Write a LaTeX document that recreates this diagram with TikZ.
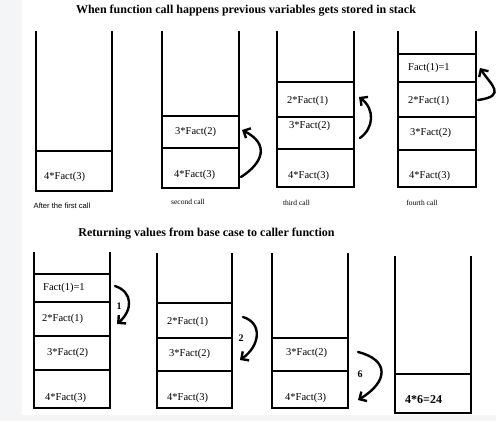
\documentclass[tikz,border=0pt]{standalone}
\usepackage{fontspec}
\setmainfont{Liberation Serif}
\newfontfamily\capsans{Liberation Sans}
\usetikzlibrary{arrows.meta}
\definecolor{bgrey}{HTML}{F4F5F7}
\newcommand\cel[8]{%
  \node[cellbox, anchor=north west, minimum width={#4-#2}, minimum height={#5-#3}] (#1) at (#2,#3) {};%
  \node[celltext, anchor=west] (#1t) at (#6,#7) {#8};}
\begin{document}
\begin{tikzpicture}[x=1pt,y=-1pt,
  wall/.style={line width=2.7pt, line join=miter},
  cellbox/.style={draw, line width=2.4pt, inner sep=0pt, outer sep=0pt},
  celltext/.style={inner sep=0pt, font=\fontsize{10.5}{12}\selectfont},
  bigtext/.style={inner sep=0pt, font=\bfseries\fontsize{12}{14}\selectfont},
  ttl/.style={font=\bfseries\fontsize{12}{14}\selectfont, inner sep=0pt},
  capt/.style={font=\fontsize{7.5}{9}\selectfont, inner sep=0pt},
  captsans/.style={font=\capsans\fontsize{7.6}{9}\selectfont, inner sep=0pt},
  back/.style={line width=2.4pt, line cap=round, -{Straight Barb[length=5.5pt,width=11pt,line width=2.4pt]}},
  num/.style={font=\bfseries\fontsize{10}{12}\selectfont, inner sep=0pt}]
\fill[bgrey] (0,0) rectangle (496,421);
\fill[white] (22,0) rectangle (496,415);
\useasboundingbox (0,0) rectangle (496,421);

% titles
\node[ttl] (t1) at (246,11) {When function call happens previous variables gets stored in stack};
\node[ttl] (t2) at (206.5,234) {Returning values from base case to caller function};

% ---- top row ----
% stack 1
\cel{s1a}{36}{151}{112}{191}{44}{177}{4*Fact(3)}
\draw[wall] (36,31) -- (36,191) -- (112,191) -- (112,31);
\node[captsans] (c1) at (62,206) {After the first call};
% stack 2
\cel{s2a}{162}{148}{239}{188}{174}{175}{4*Fact(3)}
\cel{s2b}{162}{116}{239}{148}{175}{132}{3*Fact(2)}
\draw[wall] (162,31) -- (162,188) -- (239,188) -- (239,31);
\node[capt] (c2) at (188,202) {second call};
% stack 3
\cel{s3a}{277}{149}{354}{187}{288}{176}{4*Fact(3)}
\cel{s3b}{277}{117}{354}{149}{289}{126}{3*Fact(2)}
\cel{s3c}{277}{82}{354}{117}{287}{101}{2*Fact(1)}
\draw[wall] (277,31) -- (277,187) -- (354,187) -- (354,31);
\node[capt] (c3) at (296.5,203) {third call};
% stack 4
\cel{s4a}{398}{150}{476}{187}{409}{176}{4*Fact(3)}
\cel{s4b}{398}{117}{476}{150}{410}{133}{3*Fact(2)}
\cel{s4c}{398}{82}{476}{117}{408}{101}{2*Fact(1)}
\cel{s4d}{398}{54}{476}{82}{408}{68}{Fact(1)=1}
\draw[wall] (398,31) -- (398,187) -- (476,187) -- (476,31);
\node[capt] (c4) at (422,203) {fourth call};

% call arrows
\draw[back] ([shift={(2,9)}]s2a.east) .. controls +(22,-14) and +(28,14) .. ([shift={(3,-2)}]s2b.east);
\draw[back] ([shift={(6,5)}]s3b.east) .. controls +(14,-10) and +(16,12) .. ([shift={(5,-2.5)}]s3c.east);
\draw[back] ([shift={(2,0.5)}]s4c.east) .. controls +(30,-4) and +(10,16) .. ([shift={(4,0)}]s4d.east);

% ---- bottom row ----
% stack 5
\cel{s5a}{34}{370}{110}{408}{45}{398}{4*Fact(3)}
\cel{s5b}{34}{336}{110}{370}{47}{353}{3*Fact(2)}
\cel{s5c}{34}{302}{110}{336}{42}{319}{2*Fact(1)}
\cel{s5d}{34}{274}{110}{302}{43}{288}{Fact(1)=1}
\draw[wall] (34,252) -- (34,408) -- (110,408) -- (110,252);
% stack 6
\cel{s6a}{157}{371}{232}{408}{167}{398}{4*Fact(3)}
\cel{s6b}{157}{338}{232}{371}{169}{354}{3*Fact(2)}
\cel{s6c}{157}{303}{232}{338}{167}{322}{2*Fact(1)}
\draw[wall] (157,253) -- (157,408) -- (232,408) -- (232,253);
% stack 7
\cel{s7a}{272}{371}{348}{408}{285}{398}{4*Fact(3)}
\cel{s7b}{272}{338}{348}{371}{286}{353}{3*Fact(2)}
\draw[wall] (272,253) -- (272,408) -- (348,408) -- (348,253);
% stack 8
\node[cellbox, anchor=north west, minimum width=76, minimum height=39] (s8a) at (395,374) {};
\node[bigtext, anchor=west] (s8at) at (405,400) {4*6=24};
\draw[wall] (395,256) -- (395,413) -- (471,413) -- (471,256);

% return arrows
\draw[back] ([shift={(5,-2)}]s5d.east) .. controls +(18,6) and +(16,-14) .. ([shift={(7,5)}]s5c.east);
\node[num] (n1) at (119,306) {1};
\draw[back] ([shift={(11,-3.5)}]s6c.east) .. controls +(20,6) and +(20,-14) .. ([shift={(8,5.5)}]s6b.east);
\node[num] (n2) at (241,338) {2};
\draw[back] ([shift={(10,-2.5)}]s7b.east) .. controls +(32,8) and +(30,-18) .. ([shift={(10,10.5)}]s7a.east);
\node[num] (n6) at (360,374) {6};
\end{tikzpicture}
\end{document}
